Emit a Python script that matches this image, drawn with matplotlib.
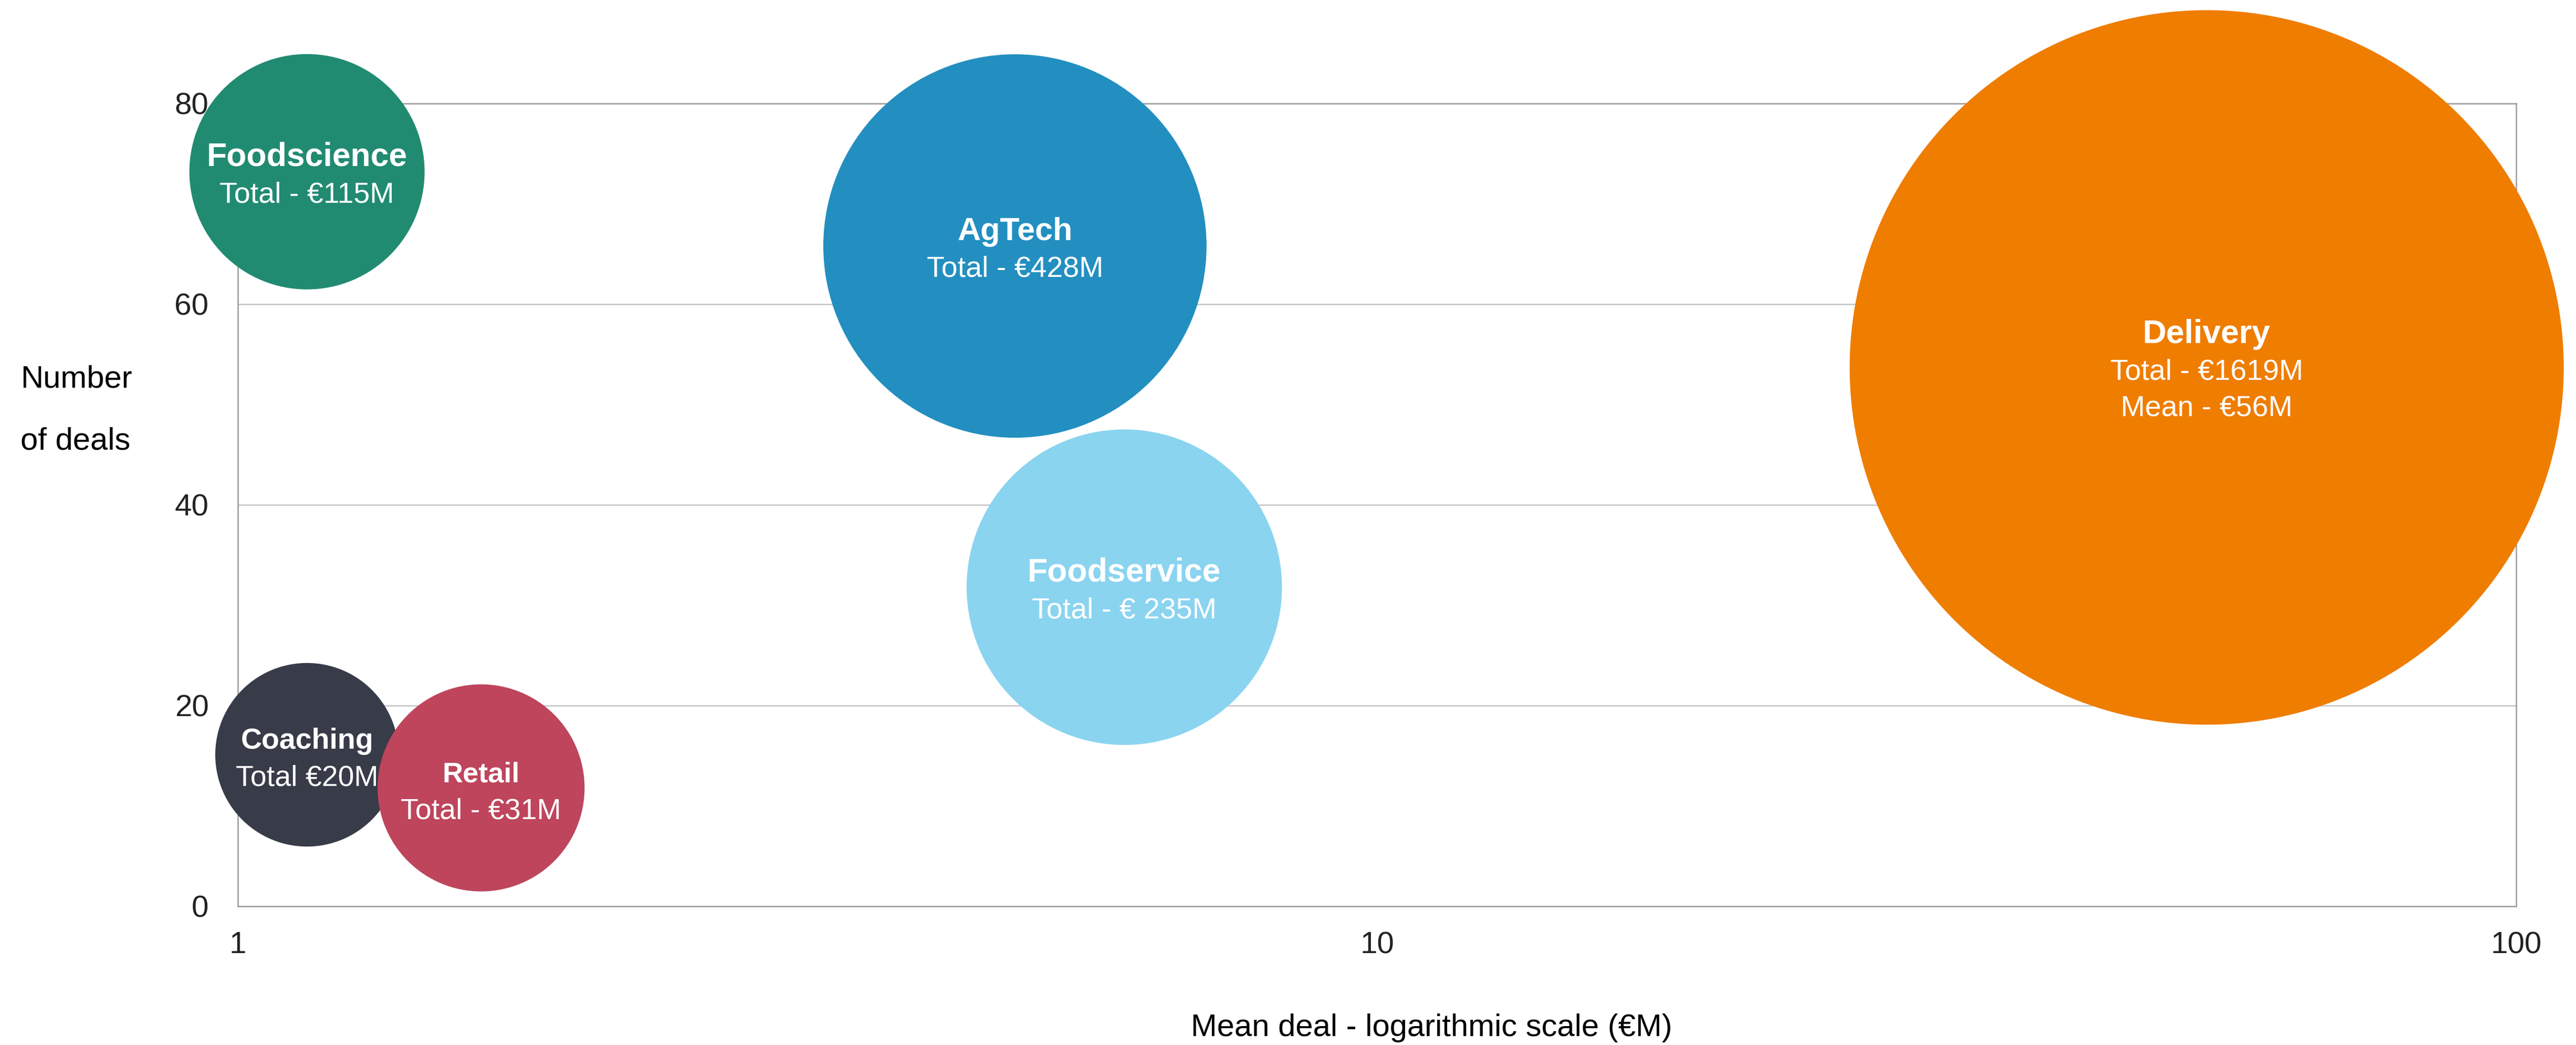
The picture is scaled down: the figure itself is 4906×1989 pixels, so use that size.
import matplotlib
matplotlib.use("Agg")
import matplotlib.pyplot as plt
from matplotlib.ticker import NullLocator

plt.rcParams['font.family'] = ['Liberation Sans', 'DejaVu Sans']

# sectors, drawn in this order (Retail sits on top of Coaching)
sectors = ["Foodscience", "AgTech", "Delivery", "Foodservice", "Coaching", "Retail"]
mean_deal = [1.15, 4.81, 53.5, 6.0, 1.15, 1.635]      # €M, log axis
num_deals = [73.2, 65.8, 53.7, 31.8, 15.1, 11.8]
bubble_area = [10.85, 28.8, 100.0, 19.5, 6.6, 8.4]     # relative bubble area
value_lines = [
    ["Total - €115M"],
    ["Total - €428M"],
    ["Total - €1619M", "Mean - €56M"],
    ["Total - € 235M"],
    ["Total €20M"],
    ["Total - €31M"],
]
colors = ["#218B72", "#238FC0", "#EF7D00", "#8AD4F0", "#383B48", "#BE455C"]
name_sizes = [45, 44, 45, 45, 40, 39]

xticks = [1, 10, 100]
yticks = [0, 20, 40, 60, 80]

W, H, DPI = 4906, 1989, 100
fig = plt.figure(figsize=(W / DPI, H / DPI), dpi=DPI)
ax = fig.add_axes([453 / W, (H - 1725) / H, (4792 - 453) / W, (1725 - 197) / H])

# marker area: 100 units -> bubble of ~1360 px diameter
size_scale = (1360 * 72 / DPI) ** 2 / 100.0
ax.scatter(mean_deal, num_deals, s=[a * size_scale for a in bubble_area],
           c=colors, linewidths=0, zorder=3, clip_on=False)

line_px = 70
for x, y, name, vals, fs in zip(mean_deal, num_deals, sectors, value_lines, name_sizes):
    lines = [(name, "bold", fs)] + [(v, "normal", 40) for v in vals]
    n = len(lines)
    for i, (txt, weight, size) in enumerate(lines):
        off_px = (i - (n - 1) / 2) * line_px + 23.5
        ax.annotate(txt, xy=(x, y), xytext=(0, -off_px * 72 / DPI),
                    textcoords="offset points", ha="center", va="baseline",
                    color="white", fontsize=size, fontweight=weight,
                    zorder=4, annotation_clip=False)

ax.set_xscale("log")
ax.set_xlim(1, 100)
ax.set_ylim(0, 80)
ax.set_xticks(xticks)
ax.set_xticklabels([str(t) for t in xticks])
ax.xaxis.set_minor_locator(NullLocator())
ax.set_yticks(yticks)
ax.tick_params(axis="x", length=0, pad=34, labelsize=42, labelcolor="#222222")
ax.tick_params(axis="y", length=0, pad=40, labelsize=42, labelcolor="#222222")

ax.set_axisbelow(True)
ax.grid(axis="y", color="#c4c4c4", linewidth=1.8)
ax.grid(axis="x", visible=False)
for sp in ax.spines.values():
    sp.set_color("#9a9a9a")
    sp.set_linewidth(1.8)
    sp.set_zorder(1)

fig.text(39 / W, 1 - 737 / H, "Number", ha="left", va="baseline", fontsize=43)
fig.text(39 / W, 1 - 855 / H, "of deals", ha="left", va="baseline", fontsize=43)
fig.text(2726 / W, 1 - 1972 / H, "Mean deal - logarithmic scale (€M)",
         ha="center", va="baseline", fontsize=43)

fig.savefig("out.png", dpi=DPI)
